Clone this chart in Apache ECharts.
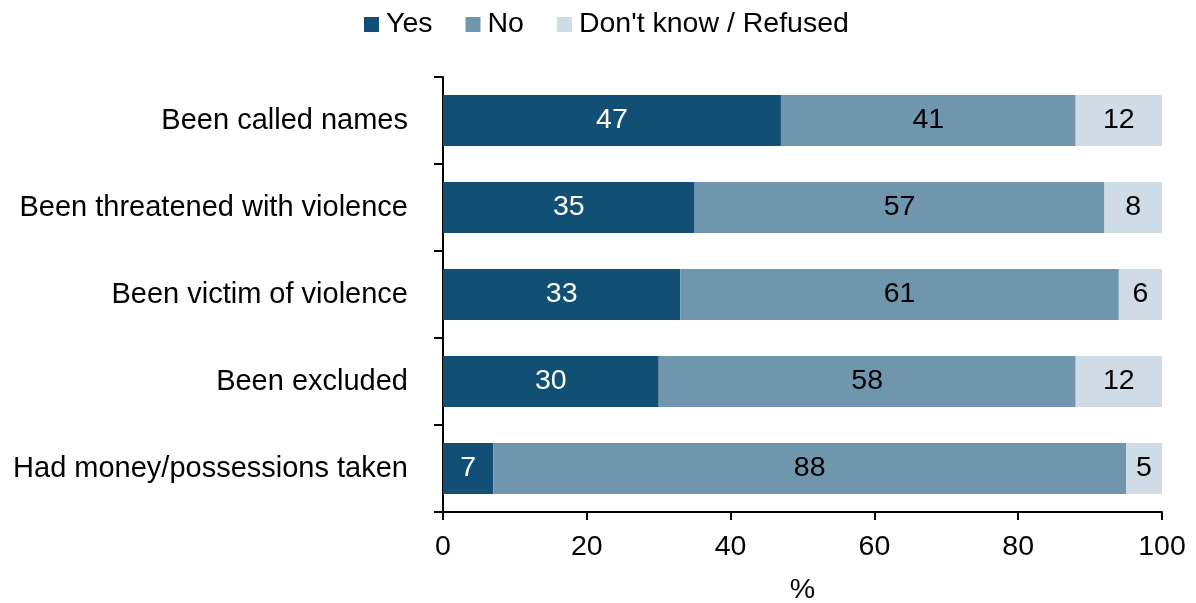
<!DOCTYPE html>
<html>
<head>
<meta charset="utf-8">
<script src="https://cdn.jsdelivr.net/npm/echarts@6/dist/echarts.min.js"></script>
<style>
  html, body { margin: 0; padding: 0; background: #fff; }
  #chart { width: 1196px; height: 603px; }
</style>
</head>
<body>
<div id="chart"></div>
<script>
// Survey items, top to bottom
const categories = [
  'Been called names',
  'Been threatened with violence',
  'Been victim of violence',
  'Been excluded',
  'Had money/possessions taken'
];
const yesValues = [47, 35, 33, 30, 7];
const noValues = [41, 57, 61, 58, 88];
const dkValues = [12, 8, 6, 12, 5];
const xTicks = [0, 20, 40, 60, 80, 100];

const FONT = '"Liberation Sans", Arial, sans-serif';
const FS = 28.5;
const colors = { yes: '#114f74', no: '#7096ae', dk: '#cfdce5' };

function barSeries(name, data, color, labelColor) {
  return {
    name: name,
    type: 'bar',
    stack: 'total',
    barWidth: 51,
    data: data,
    itemStyle: { color: color },
    label: {
      show: true,
      position: 'inside',
      color: labelColor,
      fontFamily: FONT,
      fontSize: FS
    },
    emphasis: { disabled: true }
  };
}

const chart = echarts.init(document.getElementById('chart'), null, { renderer: 'canvas' });
chart.setOption({
  animation: false,
  textStyle: { fontFamily: FONT },
  legend: {
    top: 5,
    left: 359,
    itemWidth: 15,
    itemHeight: 15,
    itemGap: 33,
    icon: 'rect',
    textStyle: { fontFamily: FONT, fontSize: FS, color: '#000', padding: [0, 0, 0, 2] },
    data: ['Yes', 'No', "Don't know / Refused"]
  },
  grid: {
    left: 443, right: 34, top: 77, bottom: 91,
    containLabel: false,
    outerBoundsMode: 'none'
  },
  xAxis: {
    type: 'value',
    min: 0,
    max: 100,
    interval: 20,
    name: '%',
    nameLocation: 'middle',
    nameGap: 64,
    nameTextStyle: { fontFamily: FONT, fontSize: FS, color: '#000' },
    axisLine: { show: true, lineStyle: { color: '#000', width: 2 } },
    axisTick: { show: true, length: 8, lineStyle: { color: '#000', width: 2 } },
    axisLabel: {
      fontFamily: FONT, fontSize: FS, color: '#000', margin: 21,
      formatter: v => xTicks.includes(v) ? String(v) : ''
    },
    splitLine: { show: false }
  },
  yAxis: {
    type: 'category',
    inverse: true,
    data: categories,
    axisLine: { show: true, lineStyle: { color: '#000', width: 2 } },
    axisTick: { show: true, length: 9, lineStyle: { color: '#000', width: 2 } },
    axisLabel: { fontFamily: FONT, fontSize: 29, color: '#000', margin: 35 }
  },
  series: [
    barSeries('Yes', yesValues, colors.yes, '#fff'),
    barSeries('No', noValues, colors.no, '#000'),
    barSeries("Don't know / Refused", dkValues, colors.dk, '#000')
  ]
});
</script>
</body>
</html>
